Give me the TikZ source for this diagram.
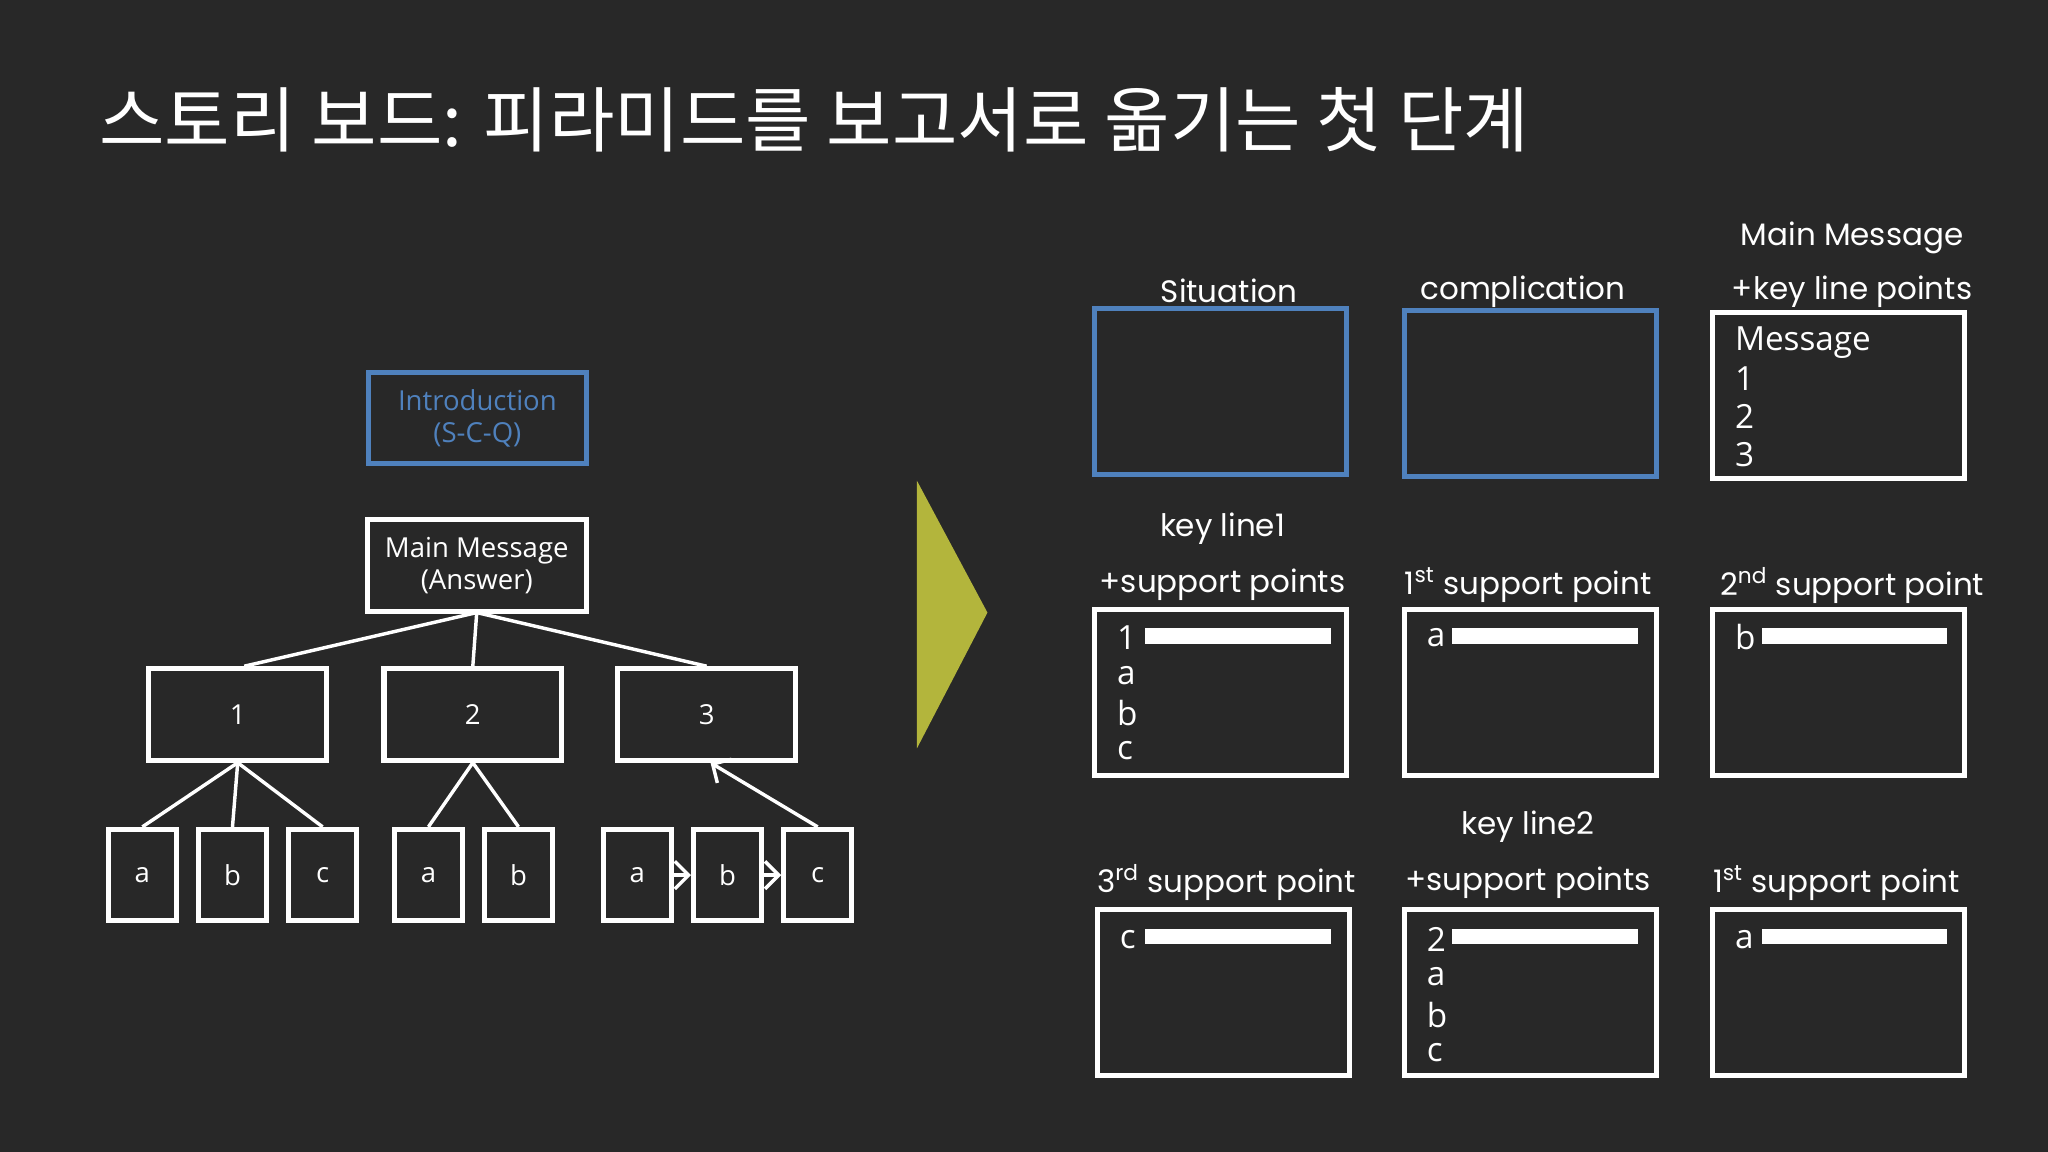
\documentclass[tikz,border=0pt]{standalone}
\usepackage{fontspec}
\setmainfont{Open Sans}
\newfontfamily\kor{Noto Sans CJK KR}
\newfontfamily\hand{Poppins}
\usetikzlibrary{arrows.meta}
\definecolor{bg}{HTML}{282828}
\definecolor{bl}{HTML}{4F81BD}
\definecolor{ol}{HTML}{B3B53C}
\begin{document}
\begin{tikzpicture}[x=0.02cm,y=-0.02cm,
 bx/.style={draw=white,line width=2.2pt,minimum width=#1*0.02cm,minimum height=70*0.02cm,inner sep=0pt,text=white,font=\fontsize{12}{14}\selectfont},
 bx/.default=136,
 lf/.style={bx=52},
 big/.style={draw=white,line width=2.2pt,minimum width=193*0.02cm,minimum height=127*0.02cm,inner sep=0pt},
 ln/.style={white,line width=1.5pt},
 lab/.style={text=white,font=\hand\fontsize{13.5}{16}\selectfont},
 tx/.style={text=white,font=\fontsize{14.5}{17}\selectfont,anchor=west,inner sep=0pt},
 bar/.style={fill=white,draw=none}]
\fill[bg] (0,0) rectangle (1568,882);
\useasboundingbox (0,0) rectangle (1568,882);
\node[anchor=west,text=white,font=\kor\fontsize{31}{36}\selectfont] (title) at (70,92) {스토리 보드: 피라미드를 보고서로 옮기는 첫 단계};
% left tree
\node[bx=167,draw=bl,text=bl,align=center] (intro) at (365.5,320) {Introduction\\(S-C-Q)};
\node[bx=168,align=center] (main) at (365,433) {Main Message\\(Answer)};
\node[bx] (n1) at (182,547) {1};
\node[bx] (n2) at (362,547) {2};
\node[bx] (n3) at (541,547) {3};
\node[lf] (a1) at (109,670) {a};
\node[lf] (b1) at (178,670) {b};
\node[lf] (c1) at (247,670) {c};
\node[lf] (a2) at (328,670) {a};
\node[lf] (b2) at (397,670) {b};
\node[lf] (a3) at (488,670) {a};
\node[lf] (b3) at (557,670) {b};
\node[lf] (c3) at (626,670) {c};
\coordinate (m) at (365,469);
\draw[ln] (m) -- ([xshift=5*0.02cm]n1.north);
\draw[ln] (m) -- (n2.north);
\draw[ln] (m) -- (n3.north);
\draw[ln] (n1.south) -- (a1.north);
\draw[ln] (n1.south) -- (b1.north);
\draw[ln] (n1.south) -- (c1.north);
\draw[ln] (n2.south) -- (a2.north);
\draw[ln] (n2.south) -- (b2.north);
\coordinate (t3) at (544,584);
\draw[ln,-{Straight Barb[length=6pt]}] (c3.north) -- (t3);
\draw[ln,-{Straight Barb[length=6pt]}] (a3.east) -- (b3.west);
\draw[ln,-{Straight Barb[length=6pt]}] (b3.east) -- (c3.west);
% arrow triangle
\fill[ol] (702,368) -- (756,469) -- (702,573) -- cycle;
% right grid
\node[big,draw=bl] (s) at (934.5,299.5) {};
\node[big,draw=bl] (cp) at (1171.5,301) {};
\node[big] (mm) at (1407.5,303) {};
\node[big] (k1) at (934.5,530) {};
\node[big] (p1) at (1171.5,530) {};
\node[big] (p2) at (1407.5,530) {};
\node[big] (p3) at (936.5,760) {};
\node[big] (k2) at (1171.5,760) {};
\node[big] (q1) at (1407.5,760) {};
\node[lab] (l1) at (941,223) {Situation};
\node[lab] (l2) at (1166,223) {complication};
\node[lab] (l3) at (1418,182) {Main Message};
\node[lab] (l4) at (1418,223) {+key line points};
\node[lab] (l5) at (936,405) {key line1};
\node[lab] (l6) at (936,448) {+support points};
\node[lab] (l7) at (1170,448) {1\textsuperscript{st} support point};
\node[lab] (l8) at (1418,448) {2\textsuperscript{nd} support point};
\node[lab] (l9) at (1170,633) {key line2};
\node[lab] (l10) at (939,676) {3\textsuperscript{rd} support point};
\node[lab] (l11) at (1170,676) {+support points};
\node[lab] (l12) at (1406,676) {1\textsuperscript{st} support point};
% texts
\node[tx] (t1) at (1328,262) {Message};
\node[tx] (t2) at (1328,290) {1};
\node[tx] (t3b) at (1328,319) {2};
\node[tx] (t4) at (1328,348) {3};
\node[tx] (u1) at (855,488) {1};
\node[tx] (u2) at (855,517) {a};
\node[tx] (u3) at (855,546) {b};
\node[tx] (u4) at (855,575) {c};
\fill[bar] (877,481) rectangle (1019,493);
\node[tx] (v1) at (1092,488) {a};
\fill[bar] (1112,481) rectangle (1254,493);
\node[tx] (w1) at (1328,488) {b};
\fill[bar] (1349,481) rectangle (1491,493);
\node[tx] (x1) at (857,719) {c};
\fill[bar] (877,711) rectangle (1019,723);
\node[tx] (y1) at (1092,719) {2};
\node[tx] (y2) at (1092,748) {a};
\node[tx] (y3) at (1092,777) {b};
\node[tx] (y4) at (1092,806) {c};
\fill[bar] (1112,711) rectangle (1254,723);
\node[tx] (z1) at (1328,719) {a};
\fill[bar] (1349,711) rectangle (1491,723);
\end{tikzpicture}
\end{document}
